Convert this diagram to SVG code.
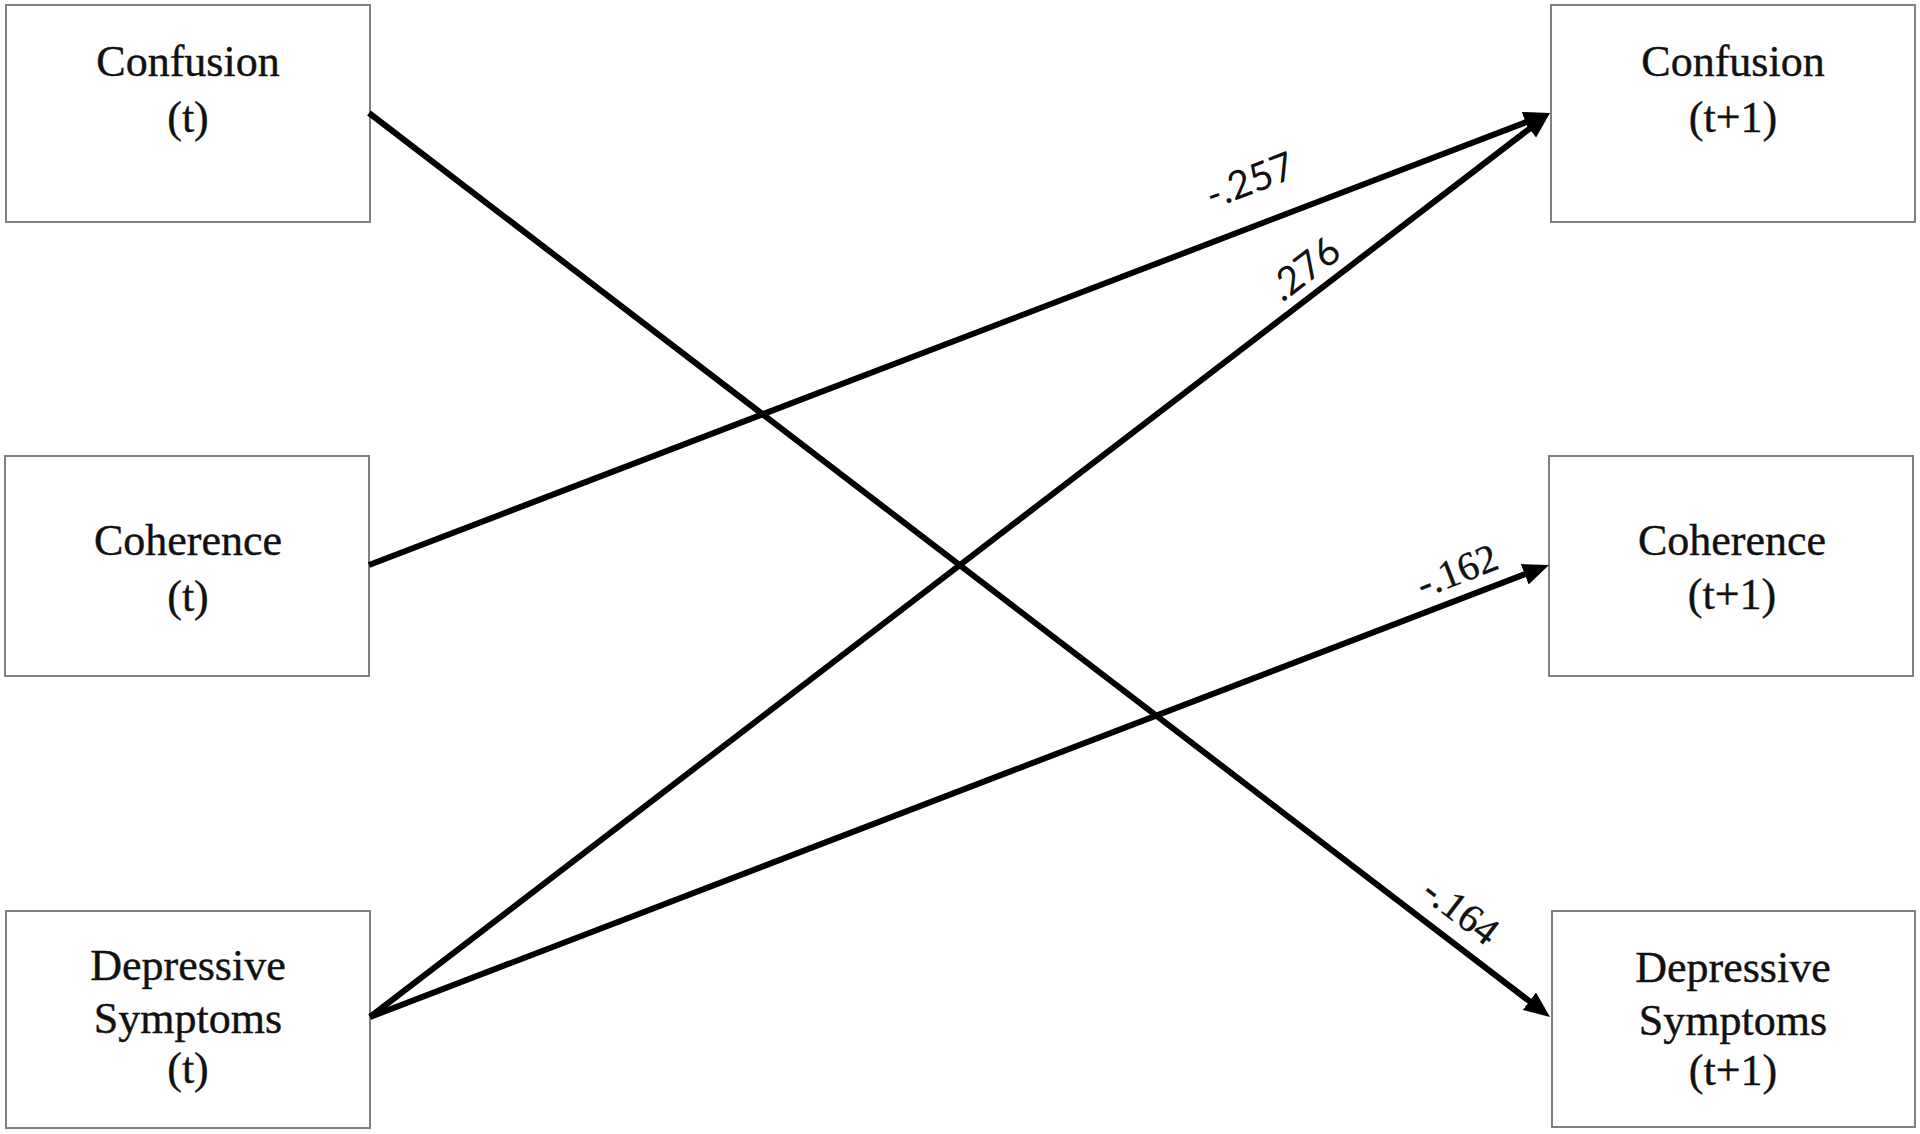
<svg xmlns="http://www.w3.org/2000/svg" width="1920" height="1134" viewBox="0 0 1920 1134">
<style>
.box{fill:#fff;stroke:#808080;stroke-width:2}
.lbl{font-family:"Liberation Serif","Times New Roman",serif;font-size:44px;fill:#111;stroke:#111;stroke-width:0.4;text-anchor:middle}
.edge{stroke:#000;stroke-width:6;fill:none;marker-end:url(#ah)}
.num{font-family:"Liberation Serif","Times New Roman",serif;font-size:40px;fill:#111;stroke:#111;stroke-width:0.4;text-anchor:middle}
.nums{font-family:Lato,"Open Sans",sans-serif;font-size:39px;fill:#111;text-anchor:middle}
</style>
<defs>
<marker id="ah" markerUnits="userSpaceOnUse" markerWidth="30" markerHeight="26" refX="16" refY="11" orient="auto">
<path d="M0,0 L26,11 L0,22 Z" fill="#000"/>
</marker>
</defs>
<rect width="1920" height="1134" fill="#fff"/>
<g id="confusion-t">
<rect class="box" x="6" y="5" width="364" height="217"/>
<text class="lbl" x="188" y="76">Confusion</text>
<text class="lbl" x="188" y="132">(t)</text>
</g>
<g id="coherence-t">
<rect class="box" x="5" y="456" width="364" height="220"/>
<text class="lbl" x="188" y="555">Coherence</text>
<text class="lbl" x="188" y="611">(t)</text>
</g>
<g id="depressive-t">
<rect class="box" x="6" y="911" width="364" height="217"/>
<text class="lbl" x="188" y="980">Depressive</text>
<text class="lbl" x="188" y="1033">Symptoms</text>
<text class="lbl" x="188" y="1083">(t)</text>
</g>
<g id="confusion-t1">
<rect class="box" x="1551" y="5" width="364" height="217"/>
<text class="lbl" x="1733" y="76">Confusion</text>
<text class="lbl" x="1733" y="132">(t+1)</text>
</g>
<g id="coherence-t1">
<rect class="box" x="1549" y="456" width="364" height="220"/>
<text class="lbl" x="1732" y="555">Coherence</text>
<text class="lbl" x="1732" y="609">(t+1)</text>
</g>
<g id="depressive-t1">
<rect class="box" x="1552" y="911" width="363" height="216"/>
<text class="lbl" x="1733" y="982">Depressive</text>
<text class="lbl" x="1733" y="1035">Symptoms</text>
<text class="lbl" x="1733" y="1085">(t+1)</text>
</g>
<g id="connectors">
<line class="edge" x1="369" y1="113" x2="1542.06" y2="1010.92"/>
<line class="edge" x1="369" y1="565" x2="1540.66" y2="116.57"/>
<line class="edge" x1="370" y1="1017" x2="1542.06" y2="119.08"/>
<line class="edge" x1="370" y1="1017" x2="1539.66" y2="568.58"/>
<text class="nums" transform="translate(1250,181) rotate(-21)" y="13">-.257</text>
<text class="nums" transform="translate(1305,269) rotate(-37.5)" y="13">.276</text>
<text class="num" transform="translate(1457,571) rotate(-21)" y="13">-.162</text>
<text class="num" transform="translate(1461,911) rotate(37.5)" y="13">-.164</text>
</g>
</svg>
